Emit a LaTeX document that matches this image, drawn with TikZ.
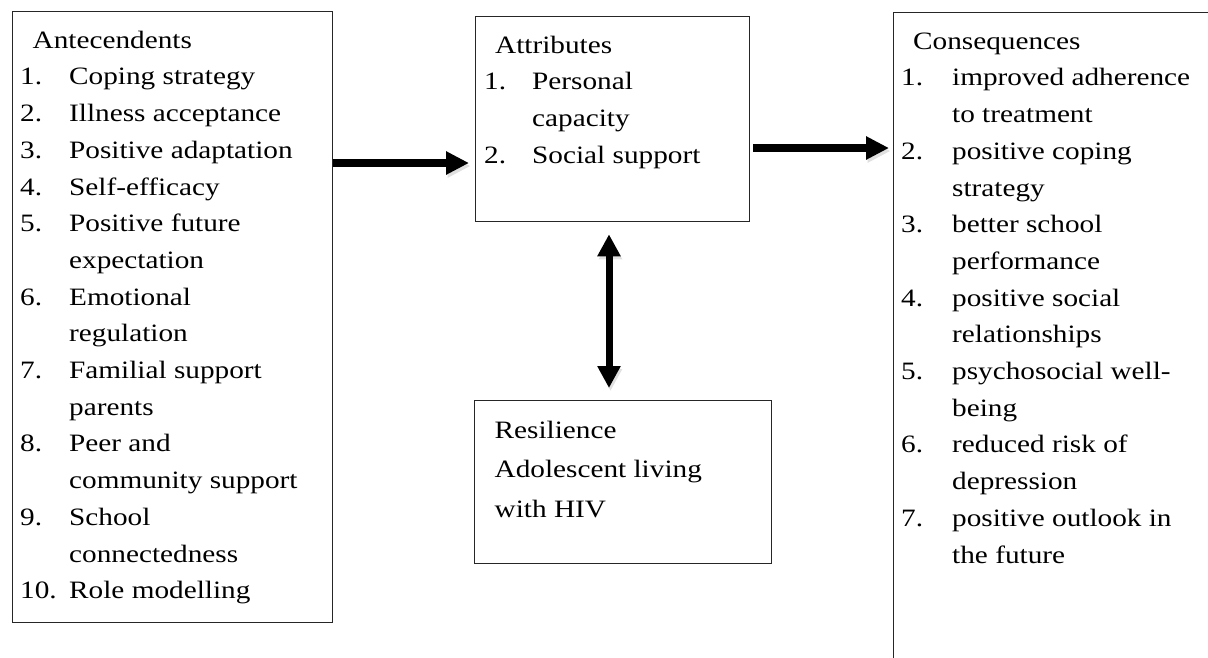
\documentclass[tikz,border=0pt]{standalone}
\usepackage{fontspec}
\setmainfont{Liberation Serif}[FakeStretch=1.17]
\usetikzlibrary{arrows.meta}
\newcommand\itm[2][49pt]{\makebox[#1][l]{#2}}
\newcommand\ind[1][49pt]{\hspace*{#1}}
\newcommand\fl{\rule{0pt}{30pt}}
\begin{document}
\begin{tikzpicture}[x=1pt,y=-1pt,
  box/.style={draw=black!85, line width=1.3pt, inner sep=0pt, anchor=north west},
  txt/.style={inner sep=0pt, anchor=north west, align=left, font=\fontsize{25}{36.7}\selectfont},
  shade/.style={preaction={draw=black!12, transform canvas={xshift=1.5pt,yshift=-3pt}}},
  bigarrow/.style={shade, line width=8pt, -{Triangle[length=23pt,width=22pt]}},
  dblarrow/.style={shade, line width=7pt, {Triangle[length=22pt,width=22pt]}-{Triangle[length=22pt,width=22pt]}}]
\useasboundingbox (0,0) rectangle (1208,657);
\fill[white] (0,0) rectangle (1208,657);
% boxes
\node[box, minimum width=320pt, minimum height=611pt] (antec) at (12,11) {};
\node[box, minimum width=274pt, minimum height=205pt] (attr) at (475,16) {};
\node[box, minimum width=297pt, minimum height=163pt] (resil) at (474,400) {};
\node[box, minimum width=400pt, minimum height=700pt] (cons) at (893,12) {};
% texts
\node[txt] (antext) at (20,18) {\fl\hspace*{12.5pt}Antecendents\\
\itm{1.}Coping strategy\\
\itm{2.}Illness acceptance\\
\itm{3.}Positive adaptation\\
\itm{4.}Self-efficacy\\
\itm{5.}Positive future\\
\ind expectation\\
\itm{6.}Emotional\\
\ind regulation\\
\itm{7.}Familial support\\
\ind parents\\
\itm{8.}Peer and\\
\ind community support\\
\itm{9.}School\\
\ind connectedness\\
\itm{10.}Role modelling};
\node[txt] (attrtext) at (484,23) {\fl\hspace*{11pt}Attributes\\
\itm[48pt]{1.}Personal\\
\ind[48pt]capacity\\
\itm[48pt]{2.}Social support};
\node[txt, font=\fontsize{25}{39.5}\selectfont] (resiltext) at (494.5,408) {\fl Resilience\\
Adolescent living\\
with HIV};
\node[txt] (constext) at (901,19) {\fl\hspace*{12pt}Consequences\\
\itm[51pt]{1.}improved adherence\\
\ind[51pt]to treatment\\
\itm[51pt]{2.}positive coping\\
\ind[51pt]strategy\\
\itm[51pt]{3.}better school\\
\ind[51pt]performance\\
\itm[51pt]{4.}positive social\\
\ind[51pt]relationships\\
\itm[51pt]{5.}psychosocial well-\\
\ind[51pt]being\\
\itm[51pt]{6.}reduced risk of\\
\ind[51pt]depression\\
\itm[51pt]{7.}positive outlook in\\
\ind[51pt]the future};
% arrows
\draw[bigarrow, shorten >=6pt] (antec.east |- 0,163) -- (attr.west |- 0,163);
\draw[bigarrow, shorten <=3pt, shorten >=4pt] (attr.east |- 0,148) -- (cons.west |- 0,148);
\draw[dblarrow, shorten <=12pt, shorten >=12pt] (attr.south -| 609,0) -- (resil.north -| 609,0);
\end{tikzpicture}
\end{document}
